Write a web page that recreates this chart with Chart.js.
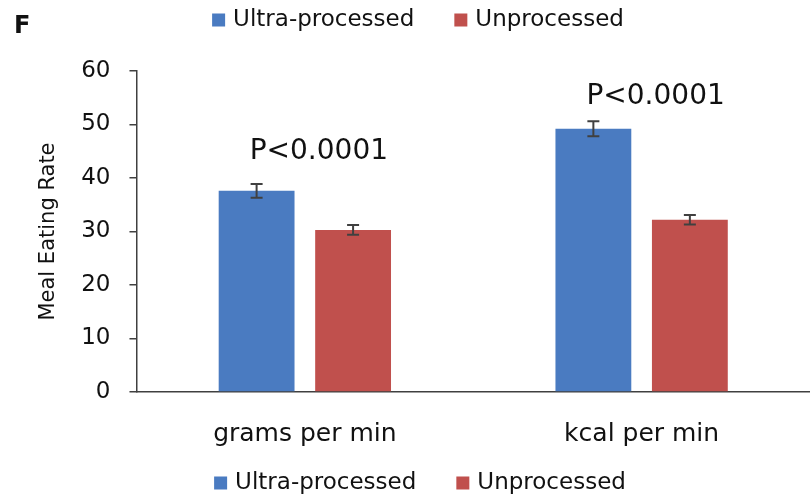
<!DOCTYPE html>
<html>
<head>
<meta charset="utf-8">
<script src="https://cdn.jsdelivr.net/npm/chart.js@4"></script>
<style>
    html, body { margin: 0; padding: 0; background: #fff; overflow: hidden; }
    #wrap { width: 810px; height: 498px; }
</style>
</head>
<body>
<div id="wrap"><canvas id="eating-rate-chart" width="810" height="498"></canvas></div>
<script>
// Данные графика
const categories = ['grams per min', 'kcal per min'];
const seriesNames = ['Ultra-processed', 'Unprocessed'];
const ultraValues = [37.6, 49.2];
const ultraErrors = [1.3, 1.4];
const unprocValues = [30.3, 32.2];
const unprocErrors = [0.9, 0.9];
const pLabels = ['P<0.0001', 'P<0.0001'];
const yTicks = [0, 10, 20, 30, 40, 50, 60];

const blue = '#4a7bc1';
const red = '#c0504d';
const axisColor = '#404040';
const fontFamily = '"DejaVu Sans", sans-serif';

// Планки погрешностей
const errorBarsPlugin = {
    id: 'errorBars',
    afterDatasetsDraw(chart) {
        const ctx = chart.ctx;
        const y = chart.scales.y;
        ctx.save();
        ctx.strokeStyle = axisColor;
        ctx.lineWidth = 2;
        chart.data.datasets.forEach((ds, i) => {
            const meta = chart.getDatasetMeta(i);
            meta.data.forEach((bar, j) => {
                const v = ds.data[j];
                const e = ds.errors[j];
                const top = y.getPixelForValue(v + e);
                const bottom = y.getPixelForValue(v - e);
                const x = bar.x;
                ctx.beginPath();
                ctx.moveTo(x, top);
                ctx.lineTo(x, bottom);
                ctx.moveTo(x - 6, top);
                ctx.lineTo(x + 6, top);
                ctx.moveTo(x - 6, bottom);
                ctx.lineTo(x + 6, bottom);
                ctx.stroke();
            });
        });
        ctx.restore();
    }
};

// Подписи P над группами
const pLabelsPlugin = {
    id: 'pLabels',
    afterDatasetsDraw(chart, args, opts) {
        const ctx = chart.ctx;
        const x = chart.scales.x;
        const y = chart.scales.y;
        ctx.save();
        ctx.font = '28px ' + fontFamily;
        ctx.fillStyle = '#111';
        ctx.textAlign = 'center';
        ctx.textBaseline = 'alphabetic';
        categories.forEach((c, i) => {
            const top = y.getPixelForValue(Math.max(ultraValues[i] + ultraErrors[i], unprocValues[i] + unprocErrors[i]));
            ctx.fillText(pLabels[i], x.getPixelForValue(i) + opts.shiftX, top - opts.gaps[i]);
        });
        ctx.restore();
    }
};

// Легенды сверху и снизу, буква панели
function drawLegend(ctx, chart, cy, shift) {
    const colors = [blue, red];
    const box = 13;
    const gap = 8;
    const spacing = 40;
    ctx.font = '23px ' + fontFamily;
    ctx.textBaseline = 'middle';
    const widths = seriesNames.map(n => ctx.measureText(n).width);
    const total = widths.reduce((a, w) => a + box + gap + w, 0) + spacing;
    let cx = chart.width / 2 - total / 2 + shift;
    seriesNames.forEach((n, i) => {
        ctx.fillStyle = colors[i];
        ctx.fillRect(cx, cy - box / 2, box, box);
        ctx.fillStyle = '#111';
        ctx.fillText(n, cx + box + gap, cy);
        cx += box + gap + widths[i] + spacing;
    });
}

const extrasPlugin = {
    id: 'extras',
    afterDraw(chart) {
        const ctx = chart.ctx;
        ctx.save();
        ctx.fillStyle = '#111';
        ctx.font = 'bold 24px ' + fontFamily;
        ctx.textBaseline = 'middle';
        ctx.fillText('F', 14, 27);
        drawLegend(ctx, chart, 20, 13);
        drawLegend(ctx, chart, 483, 15);
        ctx.restore();
    }
};

const ctx = document.getElementById('eating-rate-chart').getContext('2d');
window.eatingChart = new Chart(ctx, {
    type: 'bar',
    data: {
        labels: categories,
        datasets: [{
            label: seriesNames[0],
            data: ultraValues,
            errors: ultraErrors,
            backgroundColor: blue,
            barPercentage: 0.786,
            categoryPercentage: 0.573
        }, {
            label: seriesNames[1],
            data: unprocValues,
            errors: unprocErrors,
            backgroundColor: red,
            barPercentage: 0.786,
            categoryPercentage: 0.573
        }]
    },
    options: {
        responsive: false,
        animation: false,
        layout: {
            padding: { top: 71, left: 36, right: -8, bottom: 22 }
        },
        plugins: {
            legend: { display: false },
            tooltip: { enabled: false },
            pLabels: { shiftX: 14, gaps: [25, 17] }
        },
        scales: {
            x: {
                grid: { display: false, drawTicks: false },
                border: { display: true, color: axisColor, width: 1.5 },
                ticks: {
                    color: '#111',
                    padding: 27,
                    font: { family: fontFamily, size: 25 }
                }
            },
            y: {
                min: 0,
                max: 60,
                afterBuildTicks: (scale) => {
                    scale.ticks = yTicks.map(v => ({ value: v }));
                },
                grid: { drawOnChartArea: false, drawTicks: true, tickLength: 7, color: axisColor, lineWidth: 1.5 },
                border: { display: true, color: axisColor, width: 1.5 },
                ticks: {
                    color: '#111',
                    padding: 19,
                    font: { family: fontFamily, size: 23 }
                },
                title: {
                    display: true,
                    text: 'Meal Eating Rate',
                    color: '#111',
                    padding: { top: 0, bottom: 1 },
                    font: { family: fontFamily, size: 21 }
                }
            }
        }
    },
    plugins: [errorBarsPlugin, pLabelsPlugin, extrasPlugin]
});
</script>
</body>
</html>
